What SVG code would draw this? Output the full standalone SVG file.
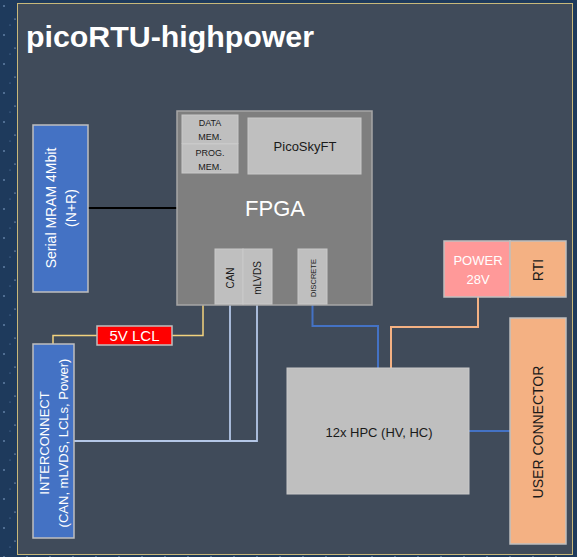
<svg xmlns="http://www.w3.org/2000/svg" width="577" height="557" viewBox="0 0 577 557">
<defs>
<pattern id="stars" width="23" height="29" patternUnits="userSpaceOnUse">
<rect width="23" height="29" fill="#1e3a5c"/>
<circle cx="4" cy="6" r="0.8" fill="#8fb0d8"/>
<circle cx="15" cy="19" r="0.6" fill="#c8dcf4"/>
<circle cx="10" cy="25" r="0.5" fill="#6f94c0"/>
</pattern>
<style>
.t{font-family:"Liberation Sans",Arial,sans-serif}
.w{fill:#ffffff}
.d{fill:#1a1a1a}
.blue{fill:#4472C4;stroke:#bfbfbf;stroke-width:1.5}
.grey{fill:#bfbfbf;stroke:#c9c9c9;stroke-width:1}
.orange{fill:#F4B183;stroke:#bfbfbf;stroke-width:1.5}
.ln{fill:none}
</style>
</defs>
<rect width="577" height="557" fill="url(#stars)"/>
<rect x="17.5" y="3.5" width="555" height="551" fill="#404B5A" stroke="#c8b87a" stroke-width="1"/>
<text class="t w" x="26" y="47" font-size="29" font-weight="bold" textLength="288" lengthAdjust="spacingAndGlyphs">picoRTU-highpower</text>

<g id="connectors">
<line x1="88" y1="208" x2="177" y2="208" stroke="#000000" stroke-width="2"/>
<polyline class="ln" points="203,305 203,335.5 172,335.5" stroke="#F2D27E" stroke-width="1.5"/>
<polyline class="ln" points="97,335.5 53,335.5 53,344" stroke="#F2D27E" stroke-width="1.5"/>
<polyline class="ln" points="230,305 230,441" stroke="#B4C7E7" stroke-width="1.8"/>
<polyline class="ln" points="74,441 257,441 257,305" stroke="#B4C7E7" stroke-width="1.8"/>
<polyline class="ln" points="312.5,304 312.5,326 378,326 378,368" stroke="#4472C4" stroke-width="2"/>
<polyline class="ln" points="478,297 478,327 391,327 391,368" stroke="#F4B183" stroke-width="2"/>
<line x1="469" y1="431" x2="510" y2="431" stroke="#4472C4" stroke-width="2"/>
</g>

<g id="fpga">
<rect x="177" y="111" width="195" height="194" fill="#7F7F7F" stroke="#a6a6a6" stroke-width="1.5"/>
<text class="t w" x="275" y="216" font-size="22" text-anchor="middle">FPGA</text>
</g>
<g id="data-mem">
<rect x="182" y="115" width="56" height="28.5" class="grey"/>
<text class="t d" x="210" y="126" font-size="9" text-anchor="middle">DATA</text>
<text class="t d" x="210" y="139.5" font-size="9" text-anchor="middle">MEM.</text>
</g>
<g id="prog-mem">
<rect x="182" y="144" width="56" height="29" class="grey"/>
<text class="t d" x="210" y="155.5" font-size="9" text-anchor="middle">PROG.</text>
<text class="t d" x="210" y="169.5" font-size="9" text-anchor="middle">MEM.</text>
</g>
<g id="picoskyft">
<rect x="248" y="118" width="113" height="56" class="grey"/>
<text class="t d" x="305" y="150.5" font-size="13" text-anchor="middle">PicoSkyFT</text>
</g>
<g id="can">
<rect x="215" y="249" width="28" height="55" class="grey"/>
<text class="t d" x="230" y="278" font-size="10" text-anchor="middle" dy="0.35em" transform="rotate(-90 230 278)">CAN</text>
</g>
<g id="mlvds">
<rect x="243" y="249" width="29" height="55" class="grey"/>
<text class="t d" x="257.5" y="278" font-size="10" text-anchor="middle" dy="0.35em" transform="rotate(-90 257.5 278)">mLVDS</text>
</g>
<g id="discrete">
<rect x="298" y="249" width="29" height="55" class="grey"/>
<text class="t d" x="313" y="278" font-size="7.5" text-anchor="middle" dy="0.35em" transform="rotate(-90 313 278)">DISCRETE</text>
</g>

<g id="mram">
<rect x="33" y="125" width="55" height="167" class="blue"/>
<text class="t w" x="51" y="208" font-size="14" text-anchor="middle" dy="0.35em" transform="rotate(-90 51 208)">Serial MRAM 4Mbit</text>
<text class="t w" x="71" y="208" font-size="14" text-anchor="middle" dy="0.35em" transform="rotate(-90 71 208)">(N+R)</text>
</g>

<g id="lcl">
<rect x="97" y="326" width="75" height="19" fill="#FF0000" stroke="#bfbfbf" stroke-width="1.5"/>
<text class="t w" x="134.5" y="341" font-size="15" text-anchor="middle">5V LCL</text>
</g>

<g id="interconnect">
<rect x="33" y="344" width="41" height="194" class="blue"/>
<text class="t w" x="44.5" y="443" font-size="13" text-anchor="middle" dy="0.35em" transform="rotate(-90 44.5 443)">INTERCONNECT</text>
<text class="t w" x="63" y="443" font-size="13" text-anchor="middle" dy="0.35em" transform="rotate(-90 63 443)">(CAN, mLVDS, LCLs, Power)</text>
</g>

<g id="power">
<rect x="444" y="241" width="66" height="56" fill="#FF9999" stroke="#bfbfbf" stroke-width="1.5"/>
<text class="t w" x="478" y="265" font-size="13" text-anchor="middle">POWER</text>
<text class="t w" x="478" y="284" font-size="13" text-anchor="middle">28V</text>
</g>

<g id="rti">
<rect x="510" y="241" width="56" height="56" class="orange"/>
<text class="t d" x="538" y="270" font-size="14" text-anchor="middle" dy="0.35em" transform="rotate(-90 538 270)">RTI</text>
</g>

<g id="hpc">
<rect x="287" y="368" width="182" height="126" class="grey"/>
<text class="t d" x="379" y="437" font-size="13" text-anchor="middle">12x HPC (HV, HC)</text>
</g>

<g id="user-connector">
<rect x="510" y="318" width="56" height="226" class="orange"/>
<text class="t d" x="538" y="432" font-size="14" text-anchor="middle" dy="0.35em" transform="rotate(-90 538 432)">USER CONNECTOR</text>
</g>
</svg>
